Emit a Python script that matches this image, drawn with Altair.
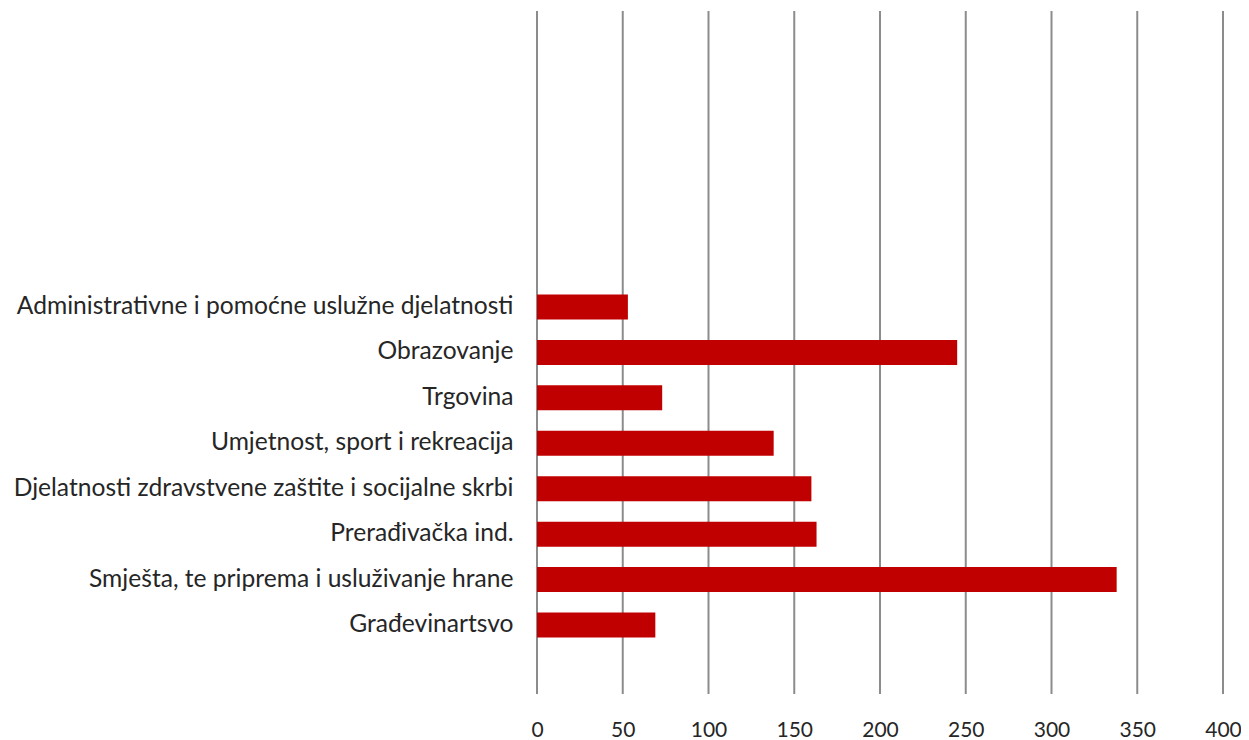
import altair as alt
import pandas as pd

categories = [
    "Administrativne i pomoćne uslužne djelatnosti",
    "Obrazovanje",
    "Trgovina",
    "Umjetnost, sport i rekreacija",
    "Djelatnosti zdravstvene zaštite i socijalne skrbi",
    "Prerađivačka ind.",
    "Smješta, te priprema i usluživanje hrane",
    "Građevinartsvo",
]
values = [53, 245, 73, 138, 160, 163, 338, 69]
x_ticks = [0, 50, 100, 150, 200, 250, 300, 350, 400]

df = pd.DataFrame({"cat": categories, "val": values})
grid_df = pd.DataFrame({"tick": x_ticks})

FONT = "Lato"
H = 683
xscale = alt.Scale(domain=[0, 400], nice=False)
xaxis = alt.Axis(
    values=x_ticks,
    title=None,
    domain=False,
    ticks=False,
    grid=False,
    labelFlush=False,
    labelFont=FONT,
    labelFontSize=21,
    labelColor="#262626",
    labelPadding=25,
)

grid = (
    alt.Chart(grid_df)
    .mark_rule(color="#8C8C8C", strokeWidth=2)
    .encode(
        x=alt.X("tick:Q", scale=xscale, axis=xaxis),
        y=alt.value(0),
        y2=alt.value(H),
    )
)

bars = (
    alt.Chart(df)
    .mark_bar(color="#C00000")
    .encode(
        x=alt.X("val:Q", scale=xscale, axis=xaxis),
        y=alt.Y(
            "cat:N",
            sort=categories,
            scale=alt.Scale(paddingInner=0.45, paddingOuter=0.5, range=[260.8, 649.2]),
            axis=alt.Axis(
                title=None,
                domain=False,
                ticks=False,
                grid=False,
                labelFont=FONT,
                labelFontSize=24.6,
                labelColor="#262626",
                labelPadding=24,
                labelLimit=600,
            ),
        ),
    )
)

chart = (
    alt.layer(grid, bars)
    .properties(
        width=686,
        height=H,
        autosize=alt.AutoSizeParams(type="none"),
        padding={"left": 529, "top": 3, "right": 18, "bottom": 46},
    )
    .configure_view(stroke=None)
)

chart.save("out.html", embed_options={"renderer": "svg", "actions": False})
